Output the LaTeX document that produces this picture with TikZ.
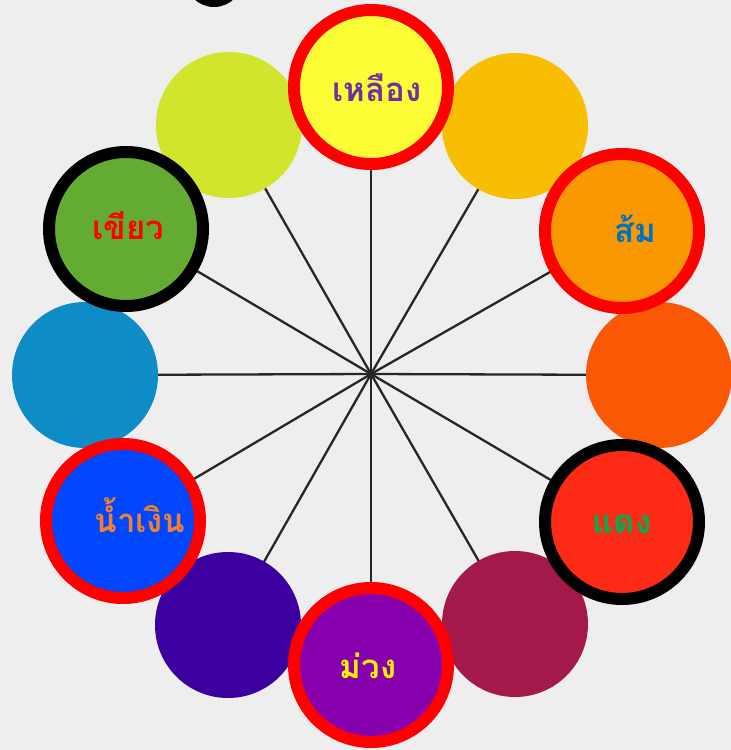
\documentclass[tikz,border=0pt]{standalone}
\usepackage{fontspec}
\newfontfamily\thaifont[Script=Thai]{Loma}
\pgfdeclarelayer{back}
\pgfdeclarelayer{bg}
\pgfsetlayers{back,bg,main}
\definecolor{bgc}{HTML}{EEEEEE}
\definecolor{cY}{HTML}{FDFD36}
\definecolor{cYO}{HTML}{F8BE02}
\definecolor{cO}{HTML}{F99800}
\definecolor{cRO}{HTML}{FB5805}
\definecolor{cR}{HTML}{FD2B16}
\definecolor{cRV}{HTML}{A3194B}
\definecolor{cV}{HTML}{8700AE}
\definecolor{cBV}{HTML}{3D00A0}
\definecolor{cB}{HTML}{0046FE}
\definecolor{cBG}{HTML}{0D8CC6}
\definecolor{cG}{HTML}{64AC31}
\definecolor{cYG}{HTML}{D0E52B}
\definecolor{tPurple}{HTML}{7030A0}
\definecolor{tBlue}{HTML}{0070C0}
\definecolor{tOrange}{HTML}{EE8034}
\definecolor{tGreen}{HTML}{00B050}
\tikzset{
  plain/.style={circle, minimum size=146pt, inner sep=0pt, fill=#1},
  ringed/.style={circle, minimum size=154pt, inner sep=0pt, fill=#1, line width=12pt},
  redring/.style={ringed=#1, draw=red},
  blackring/.style={ringed=#1, draw=black},
  lbl/.style={font=\thaifont\bfseries\fontsize{33}{39}\selectfont, text=#1, draw=#1, line width=0.4pt},
  spoke/.style={draw=black!85, line width=2.3pt},
}
\begin{document}
\begin{tikzpicture}[x=1pt,y=-1pt]
\begin{pgfonlayer}{back}
\fill[bgc] (0,0) rectangle (731,750);
\end{pgfonlayer}
\useasboundingbox (0,0) rectangle (731,750);
\begin{scope}
\clip (0,0) rectangle (731,750);
\fill[black] (214,-22) circle (29);
\end{scope}
\coordinate (c) at (371,374);
% plain circles
\node[plain=cYO] (p60)  at (515,126) {};
\node[plain=cRO] (p0)   at (659,375) {};
\node[plain=cRV] (p300) at (515,624) {};
\node[plain=cBV] (p240) at (228,625) {};
\node[plain=cBG] (p180) at (85,375) {};
\node[plain=cYG] (p120) at (229,125) {};
% ringed circles
\node[redring=cY]   (p90)  at (371,87) {};
\node[redring=cO]   (p30)  at (622,231) {};
\node[blackring=cG] (p150) at (126,229) {};
\node[redring=cB]   (p210) at (123,521) {};
\node[blackring=cR] (p330) at (622,522) {};
\node[redring=cV]   (p270) at (371,665) {};
% labels
\tikzset{lbl/.append style={draw=none}}
\node[lbl=tPurple] (t90)  at ([xshift=6pt,yshift=-1pt]p90.center) {เหลือง};
\node[lbl=tBlue]   (t30)  at ([xshift=13pt,yshift=2pt]p30.center) {ส้ม};
\node[lbl=red]     (t150) at ([xshift=2pt,yshift=3pt]p150.center) {เขียว};
\node[lbl=tOrange] (t210) at ([xshift=17pt,yshift=6pt]p210.center) {น้ำเงิน};
\node[lbl=tGreen]  (t330) at ([xshift=0pt,yshift=-2pt]p330.center) {แดง};
\node[lbl=yellow]  (t270) at ([xshift=-3pt,yshift=-1pt]p270.center) {ม่วง};
% spokes
\begin{pgfonlayer}{bg}
\foreach \n in {p0,p30,p60,p90,p120,p150,p180,p210,p240,p270,p300,p330}
  \draw[spoke] (c) -- (\n.center);
\fill[black!85] (c) circle (3.5);
\end{pgfonlayer}
\end{tikzpicture}
\end{document}
